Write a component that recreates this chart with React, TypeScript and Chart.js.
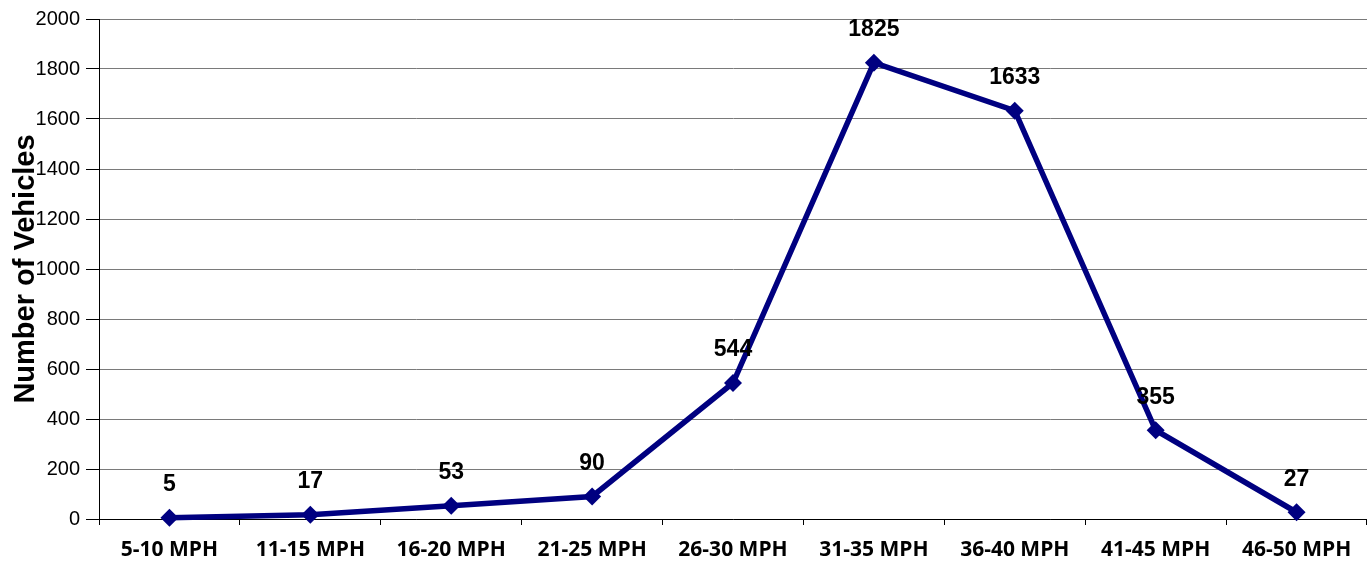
import React, { useEffect, useRef } from "react";
import { Chart, registerables } from "chart.js";

Chart.register(...registerables);

const categories = [
  "5-10 MPH",
  "11-15 MPH",
  "16-20 MPH",
  "21-25 MPH",
  "26-30 MPH",
  "31-35 MPH",
  "36-40 MPH",
  "41-45 MPH",
  "46-50 MPH",
];
const vehicles = [5, 17, 53, 90, 544, 1825, 1633, 355, 27];
const yAxisTitle = "Number of Vehicles";

const dataLabelPlugin = {
  id: "dataLabels",
  afterDatasetsDraw(chart: any) {
    const ctx = chart.ctx;
    const meta = chart.getDatasetMeta(0);
    ctx.save();
    ctx.font = "bold 23px 'Liberation Sans', Arial, sans-serif";
    ctx.fillStyle = "#000000";
    ctx.textAlign = "center";
    ctx.textBaseline = "middle";
    meta.data.forEach((pt: any, i: number) => {
      ctx.fillText(String(vehicles[i]), pt.x, pt.y - 33);
    });
    ctx.restore();
  },
};

const yTitlePlugin = {
  id: "yTitle",
  afterDraw(chart: any) {
    const ctx = chart.ctx;
    const area = chart.chartArea;
    ctx.save();
    ctx.translate(26, (area.top + area.bottom) / 2);
    ctx.rotate(-Math.PI / 2);
    ctx.font = "bold 29px 'Liberation Sans', Arial, sans-serif";
    ctx.fillStyle = "#000000";
    ctx.textAlign = "center";
    ctx.textBaseline = "middle";
    ctx.fillText(yAxisTitle, 0, 0);
    ctx.restore();
  },
};

export default function App() {
  const canvasRef = useRef<HTMLCanvasElement | null>(null);

  useEffect(() => {
    if (!canvasRef.current) return;
    const chart = new Chart(canvasRef.current, {
      type: "line",
      data: {
        labels: categories,
        datasets: [
          {
            data: vehicles,
            borderColor: "#000080",
            backgroundColor: "#000080",
            borderWidth: 5.5,
            pointStyle: "rectRot",
            pointRadius: 9,
            pointHoverRadius: 9,
            pointBorderWidth: 0,
            tension: 0,
            clip: false,
          },
        ],
      },
      options: {
        animation: false,
        responsive: false,
        devicePixelRatio: 1,
        layout: { autoPadding: false, padding: { top: 19, right: 0, left: 0, bottom: 0 } },
        plugins: {
          legend: { display: false },
          tooltip: { enabled: false },
        },
        scales: {
          x: {
            offset: true,
            afterFit: (scale: any) => {
              scale.height = 47;
              scale.paddingLeft = 0;
              scale.paddingRight = 0;
            },
            grid: {
              offset: true,
              drawOnChartArea: false,
              drawTicks: true,
              tickLength: 6,
              color: "#000000",
            },
            border: { color: "#000000", width: 1 },
            ticks: {
              color: "#000000",
              padding: 12,
              maxRotation: 0,
              autoSkip: false,
              font: { family: "'Open Sans', sans-serif", size: 21, weight: "bold" },
            },
          },
          y: {
            min: 0,
            max: 2000,
            afterFit: (scale: any) => {
              scale.width = 99;
              scale.paddingRight = 0;
              scale.paddingLeft = 0;
            },
            grid: {
              color: "#7a7a7a",
              lineWidth: 1,
              tickLength: 13,
              tickColor: "#000000",
            },
            border: { color: "#000000", width: 1 },
            ticks: {
              stepSize: 200,
              color: "#000000",
              padding: 6,
              callback: (v: any) => String(v),
              font: { family: "'Liberation Sans', Arial, sans-serif", size: 20 },
            },
          },
        },
      },
      plugins: [dataLabelPlugin, yTitlePlugin],
    });
    return () => chart.destroy();
  }, []);

  return (
    <div
      style={{
        position: "absolute",
        left: 0,
        top: 0,
        width: 1367,
        height: 566,
        background: "#ffffff",
      }}
    >
      <canvas ref={canvasRef} width={1367} height={566} style={{ display: "block" }} />
    </div>
  );
}
